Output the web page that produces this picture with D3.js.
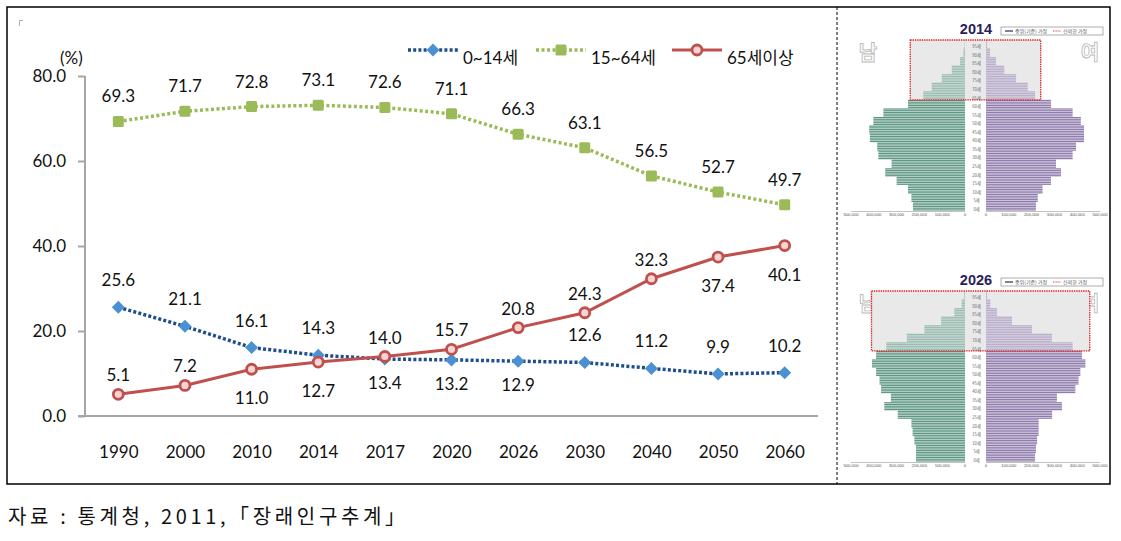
<!DOCTYPE html>
<html><head><meta charset="utf-8">
<script src="https://cdn.jsdelivr.net/npm/d3@7"></script>
<style>
html,body{margin:0;padding:0;background:#fff;}
svg{display:block;}
</style></head>
<body>
<svg id="chart" width="1121" height="541"></svg>
<script>
// ---------- data ----------
const years = ['1990','2000','2010','2014','2017','2020','2026','2030','2040','2050','2060'];
const child = [25.6,21.1,16.1,14.3,13.4,13.2,12.9,12.6,11.2,9.9,10.2];
const working = [69.3,71.7,72.8,73.1,72.6,71.1,66.3,63.1,56.5,52.7,49.7];
const elderly = [5.1,7.2,11.0,12.7,14.0,15.7,20.8,24.3,32.3,37.4,40.1];
const childLabelPos = ['above','above','above','above','below','below','below','above','above','above','above'];
const workingLabelPos = ['above','above','above','above','above','above','above','above','above','above','above'];
const elderlyLabelPos = ['above','above','below','below','above','above','above','above','above','below','below'];
const seriesNames = ['0~14세','15~64세','65세이상'];
const yTicks = [0,20,40,60,80];
const caption = '자료 : 통계청, 2011,「장래인구추계」';

// population pyramids (thousand persons per single year of age, 5-year age groups 0-4 ... 95-99)
const pyrYears = ['2014','2026'];
const male2014 = [228,235,250,300,350,322,380,385,417,420,402,358,250,183,146,102,58,22,7,2];
const female2014 = [219,227,248,285,329,307,380,395,430,430,416,380,285,215,183,132,80,44,18,5];
const male2026 = [215,215,222,230,235,295,354,325,368,375,390,408,390,345,255,178,105,47,15,4];
const female2026 = [215,219,224,231,231,290,333,311,392,406,414,436,421,380,289,202,114,48,19,5];
const ageLabels = ['0세','5세','10세','15세','20세','25세','30세','35세','40세','45세','50세','55세','60세','65세','70세','75세','80세','85세','90세','95세'];
const popTicks = [0,100000,200000,300000,400000,500000];
const boxLeft = [240, 410];   // thousand, extent of the 65+ highlight box
const boxRight = [240, 455];
const pyrLegend = ['중위(기준) 가정','신뢰한 가정'];

// ---------- drawing ----------
const svg = d3.select('#chart');
const font = "Lato, 'Noto Sans CJK KR', sans-serif";

// outer frame
svg.append('rect').attr('x',7).attr('y',7).attr('width',1103).attr('height',477)
  .attr('fill','none').attr('stroke','#000').attr('stroke-width',1.5);
svg.append('line').attr('x1',837).attr('x2',837).attr('y1',7).attr('y2',484)
  .attr('stroke','#000').attr('stroke-width',1).attr('stroke-dasharray','3,2');
svg.append('path').attr('d','M19.5,26 V20.5 H23').attr('fill','none').attr('stroke','#999').attr('stroke-width',0.8);

const x = d3.scalePoint().domain(years).range([85,818]).padding(0.5);
const y = d3.scaleLinear().domain([0,80]).range([416,76]);

// y axis
const yAxis = svg.append('g').attr('transform','translate(85,0)')
  .call(d3.axisLeft(y).tickValues(yTicks).tickFormat(d3.format('.1f')).tickSize(7).tickPadding(12));
yAxis.select('.domain').attr('stroke','#a6a6a6').attr('stroke-width',2).attr('d','M0,76V416');
yAxis.selectAll('.tick line').attr('stroke','#a6a6a6').attr('stroke-width',2);
yAxis.selectAll('.tick text').attr('font-family',font).attr('font-size',17).attr('fill','#111');

// x axis
const xAxis = svg.append('g').attr('transform','translate(0,416)')
  .call(d3.axisBottom(x).tickSize(0).tickPadding(30));
xAxis.select('.domain').attr('stroke','#a6a6a6').attr('stroke-width',2).attr('d','M78,0H818');
xAxis.selectAll('.tick text').attr('font-family',font).attr('font-size',17).attr('fill','#111');

svg.append('text').attr('x',60).attr('y',64).attr('font-family',font).attr('font-size',17).attr('fill','#111').text('(%)');

const line = d3.line().x((d,i)=>x(years[i])).y(d=>y(d));

const series = [
  {name:seriesNames[1], values:working, pos:workingLabelPos, color:'#9bbb59', dash:'3,2.5', width:3.5, marker:'square', mcol:'#9bbb59', above:-25, below:25},
  {name:seriesNames[0], values:child, pos:childLabelPos, color:'#1f4e8c', dash:'3,2.2', width:3.5, marker:'diamond', mcol:'#4a90d2', above:-27, below:24},
  {name:seriesNames[2], values:elderly, pos:elderlyLabelPos, color:'#c0504d', dash:null, width:3, marker:'circle', mcol:'#c0504d', above:-19, below:29}
];

function drawMarker(g, type, cx, cy, col){
  if(type==='square'){
    g.append('rect').attr('x',cx-5.5).attr('y',cy-5.5).attr('width',11).attr('height',11).attr('rx',1.5)
      .attr('fill',col);
  } else if(type==='diamond'){
    g.append('path').attr('d',`M${cx},${cy-6.5}L${cx+6.5},${cy}L${cx},${cy+6.5}L${cx-6.5},${cy}Z`)
      .attr('fill',col);
  } else {
    g.append('circle').attr('cx',cx).attr('cy',cy).attr('r',5).attr('fill','#f6d5d4')
      .attr('stroke',col).attr('stroke-width',2.8);
  }
}

series.forEach(s=>{
  const p = svg.append('path').datum(s.values).attr('d',line).attr('fill','none')
    .attr('stroke',s.color).attr('stroke-width',s.width);
  if(s.dash) p.attr('stroke-dasharray',s.dash);
  const g = svg.append('g');
  s.values.forEach((v,i)=>drawMarker(g,s.marker,x(years[i]),y(v),s.mcol));
});
series.forEach(s=>{
  svg.append('g').selectAll('text').data(s.values).join('text')
    .attr('x',(d,i)=>x(years[i]))
    .attr('y',(d,i)=>y(d)+(s.pos[i]==='above'?s.above:s.below)+6)
    .attr('text-anchor','middle').attr('font-family',font).attr('font-size',17).attr('fill','#111')
    .text(d=>d3.format('.1f')(d));
});

// legend
const legendX = [408,536,672];
const legendOrder = [series[1],series[0],series[2]];
legendOrder.forEach((s,i)=>{
  const lx = legendX[i], ly = 50;
  const l = svg.append('line').attr('x1',lx).attr('x2',lx+50).attr('y1',ly).attr('y2',ly)
    .attr('stroke',s.color).attr('stroke-width',s.width);
  if(s.dash) l.attr('stroke-dasharray',s.dash);
  drawMarker(svg.append('g'), s.marker, lx+25, ly, s.mcol);
  svg.append('text').attr('x',lx+55).attr('y',64).attr('font-family',font).attr('font-size',17)
    .attr('fill','#111').text(s.name);
});

// caption
svg.append('text').attr('x',8).attr('y',524).attr('font-family',"'Noto Sans CJK KR', sans-serif")
  .attr('font-size',20).attr('fill','#111').attr('textLength',397).attr('lengthAdjust','spacing')
  .text(caption);

// ---------- pyramids ----------
const pyrData = [[male2014,female2014],[male2026,female2026]];
const pyrBottom = [211,462];
const zeroL = 965, zeroR = 986;
const wScale = d3.scaleLinear().domain([0,500]).range([0,114]);
pyrData.forEach((pd,k)=>{
  const yb = pyrBottom[k];
  const ya = d3.scaleLinear().domain([0,100]).range([yb, yb-171]);
  const g = svg.append('g');
  // title
  g.append('text').attr('x',976).attr('y',ya(100)-6).attr('text-anchor','middle')
    .attr('font-family','Liberation Sans, Arial, sans-serif').attr('font-weight','bold').attr('font-size',14.5)
    .attr('fill','#2b1e5c').text(pyrYears[k]);
  // legend box
  const lb = g.append('g').attr('transform',`translate(1001,${ya(100)-13})`);
  lb.append('rect').attr('width',102).attr('height',8).attr('fill','#fff').attr('stroke','#777').attr('stroke-width',0.6);
  lb.append('line').attr('x1',4).attr('x2',12).attr('y1',4).attr('y2',4).attr('stroke','#2b2b5c').attr('stroke-width',1.2);
  lb.append('text').attr('x',14).attr('y',6).attr('font-size',5).attr('fill','#555').attr('font-family',"'Noto Sans CJK KR'").text(pyrLegend[0]);
  lb.append('line').attr('x1',52).attr('x2',60).attr('y1',4).attr('y2',4).attr('stroke','#d44').attr('stroke-width',1).attr('stroke-dasharray','1,0.6');
  lb.append('text').attr('x',62).attr('y',6).attr('font-size',5).attr('fill','#555').attr('font-family',"'Noto Sans CJK KR'").text(pyrLegend[1]);
  // gender glyphs
  [['남',868],['여',1090]].forEach(([t,tx])=>{
    g.append('text').attr('x',tx).attr('y',ya(100)+20).attr('text-anchor','middle')
      .attr('font-family',"'Noto Sans CJK KR'").attr('font-size',20).attr('font-weight','bold')
      .attr('fill','#fff').attr('stroke','#bbb').attr('stroke-width',0.9).text(t);
  });
  // box background
  const bx0 = zeroL - wScale(boxLeft[k]), bx1 = zeroR + wScale(boxRight[k]);
  g.append('rect').attr('x',bx0).attr('y',ya(100)).attr('width',bx1-bx0).attr('height',ya(65)-ya(100))
    .attr('fill','#dcdcdc');
  // bars (single-year rows, each age taking its 5-year group value)
  const ages = d3.range(0,100);
  const h = ya(0)-ya(1);
  g.selectAll('.m').data(ages).join('rect')
    .attr('x',a=>zeroL - wScale(pd[0][Math.floor(a/5)])).attr('y',a=>ya(a+1))
    .attr('width',a=>wScale(pd[0][Math.floor(a/5)])).attr('height',h-0.45).attr('fill','#5e9784');
  g.selectAll('.f').data(ages).join('rect')
    .attr('x',zeroR).attr('y',a=>ya(a+1))
    .attr('width',a=>wScale(pd[1][Math.floor(a/5)])).attr('height',h-0.45).attr('fill','#8f7cad');
  // overlay
  g.append('rect').attr('x',bx0).attr('y',ya(100)).attr('width',bx1-bx0).attr('height',ya(65)-ya(100))
    .attr('fill','#fff').attr('fill-opacity',0.38)
    .attr('stroke','#d22').attr('stroke-width',1.3).attr('stroke-dasharray','1.4,0.9');
  // age labels
  g.selectAll('.al').data(ageLabels).join('text')
    .attr('x',(zeroL+zeroR)/2+1).attr('y',(d,i)=>ya(i*5)-0.3).attr('text-anchor','middle')
    .attr('font-size',4.2).attr('fill','#666').attr('font-family',"'Noto Sans CJK KR'").text(d=>d);
  // axis
  g.append('line').attr('x1',zeroL-wScale(500)).attr('x2',zeroL).attr('y1',yb+0.5).attr('y2',yb+0.5).attr('stroke','#999').attr('stroke-width',0.6);
  g.append('line').attr('x1',zeroR).attr('x2',zeroR+wScale(500)).attr('y1',yb+0.5).attr('y2',yb+0.5).attr('stroke','#999').attr('stroke-width',0.6);
  const fmt = d3.format(',');
  popTicks.forEach(t=>{
    g.append('text').attr('x',zeroL-wScale(t/1000)).attr('y',yb+5).attr('text-anchor','middle')
      .attr('font-size',4.2).attr('fill','#555').attr('font-family','Liberation Sans').text(fmt(t));
    g.append('text').attr('x',zeroR+wScale(t/1000)).attr('y',yb+5).attr('text-anchor','middle')
      .attr('font-size',4.2).attr('fill','#555').attr('font-family','Liberation Sans').text(fmt(t));
  });
});
</script>
</body></html>
